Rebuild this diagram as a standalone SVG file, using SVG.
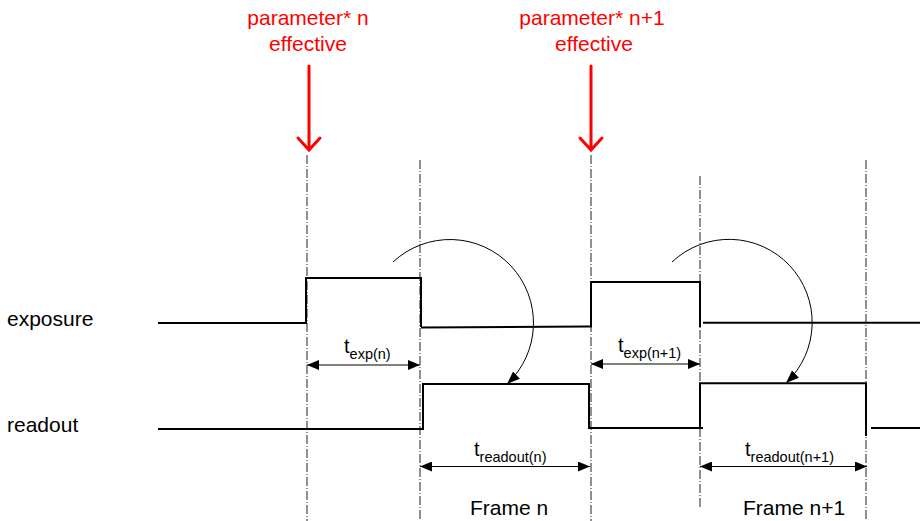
<svg xmlns="http://www.w3.org/2000/svg" width="920" height="521" viewBox="0 0 920 521">
<style>
.lbl{font-family:"Liberation Sans",Arial,sans-serif;font-size:21px;fill:#000}
.red{font-family:"Liberation Sans",Arial,sans-serif;font-size:21px;fill:#ff0000;text-anchor:middle}
.t{font-family:"Liberation Sans",Arial,sans-serif;font-size:20px;fill:#000}
.sub{font-size:14.5px}
.wave{fill:none;stroke:#000;stroke-width:2}
.grid{stroke:#222;stroke-width:1;stroke-dasharray:9,2,1,2;fill:none}
.dim{stroke:#000;stroke-width:1;fill:none;marker-start:url(#ah);marker-end:url(#ah)}
.curve{stroke:#000;stroke-width:1;fill:none;marker-end:url(#ch)}
.rarrow{stroke:#ff0000;stroke-width:3;fill:none;stroke-linecap:round;stroke-linejoin:miter}
</style>
<defs>
<marker id="ah" viewBox="0 0 12 10" refX="12" refY="5" markerWidth="12" markerHeight="10" markerUnits="userSpaceOnUse" orient="auto-start-reverse">
<path d="M0,0 L12,5 L0,10 Z" fill="#000"/>
</marker>
<marker id="ch" viewBox="0 0 13 10" refX="13" refY="5" markerWidth="13" markerHeight="10" markerUnits="userSpaceOnUse" orient="auto">
<path d="M0,0 L13,5 L0,10 Z" fill="#000"/>
</marker>
</defs>

<g id="grid-lines">
<line class="grid" x1="307" y1="155" x2="307" y2="521"/>
<line class="grid" x1="420" y1="160" x2="420" y2="521"/>
<line class="grid" x1="591" y1="155" x2="591" y2="521"/>
<line class="grid" x1="700" y1="176" x2="700" y2="509"/>
<line class="grid" x1="866" y1="160" x2="866" y2="521"/>
</g>

<g id="param-n">
<text class="red" x="308" y="25">parameter* n</text>
<text class="red" x="308" y="51">effective</text>
<path class="rarrow" d="M309,66 L309,149 M298,138 L309,150 L320,138"/>
</g>
<g id="param-n1">
<text class="red" x="592" y="25">parameter* n+1</text>
<text class="red" x="594" y="51">effective</text>
<path class="rarrow" d="M591,66 L591,149 M580,138 L591,150 L602,138"/>
</g>

<g id="exposure">
<text class="lbl" x="7" y="326">exposure</text>
<path class="wave" d="M158,323 H306 V278 H421 V327"/>
<path class="wave" d="M421,327.5 L589,326.5"/>
<path class="wave" d="M589,326.5 H591 V282 H700 V327"/>
<path class="wave" d="M703,322.7 H920"/>
</g>

<g id="readout">
<text class="lbl" x="7" y="432">readout</text>
<path class="wave" d="M158,429 H423 V384 H589 V428 H703"/>
<path class="wave" d="M700,428 V383.3 H866 V436"/>
<path class="wave" d="M871,428 H920"/>
</g>

<g id="connectors">
<line class="dim" x1="307" y1="365" x2="420" y2="365"/>
<line class="dim" x1="591" y1="364" x2="700" y2="364"/>
<line class="dim" x1="420" y1="466.5" x2="590" y2="466.5"/>
<line class="dim" x1="700" y1="466.5" x2="867" y2="466.5"/>
<path class="curve" d="M393,262 A82,82 0 1,1 507,384"/>
<path class="curve" d="M672,262 A82,82 0 1,1 786,383"/>
</g>

<g id="texp-n"><text class="t" x="344" y="353">t<tspan class="sub" dy="6">exp(n)</tspan></text></g>
<g id="texp-n1"><text class="t" x="618" y="352">t<tspan class="sub" dy="6">exp(n+1)</tspan></text></g>
<g id="tread-n"><text class="t" x="474" y="456">t<tspan class="sub" dy="6">readout(n)</tspan></text></g>
<g id="tread-n1"><text class="t" x="745" y="456">t<tspan class="sub" dy="6">readout(n+1)</tspan></text></g>

<g id="frame-n"><text class="lbl" x="470" y="515">Frame n</text></g>
<g id="frame-n1"><text class="lbl" x="743" y="515">Frame n+1</text></g>
</svg>
